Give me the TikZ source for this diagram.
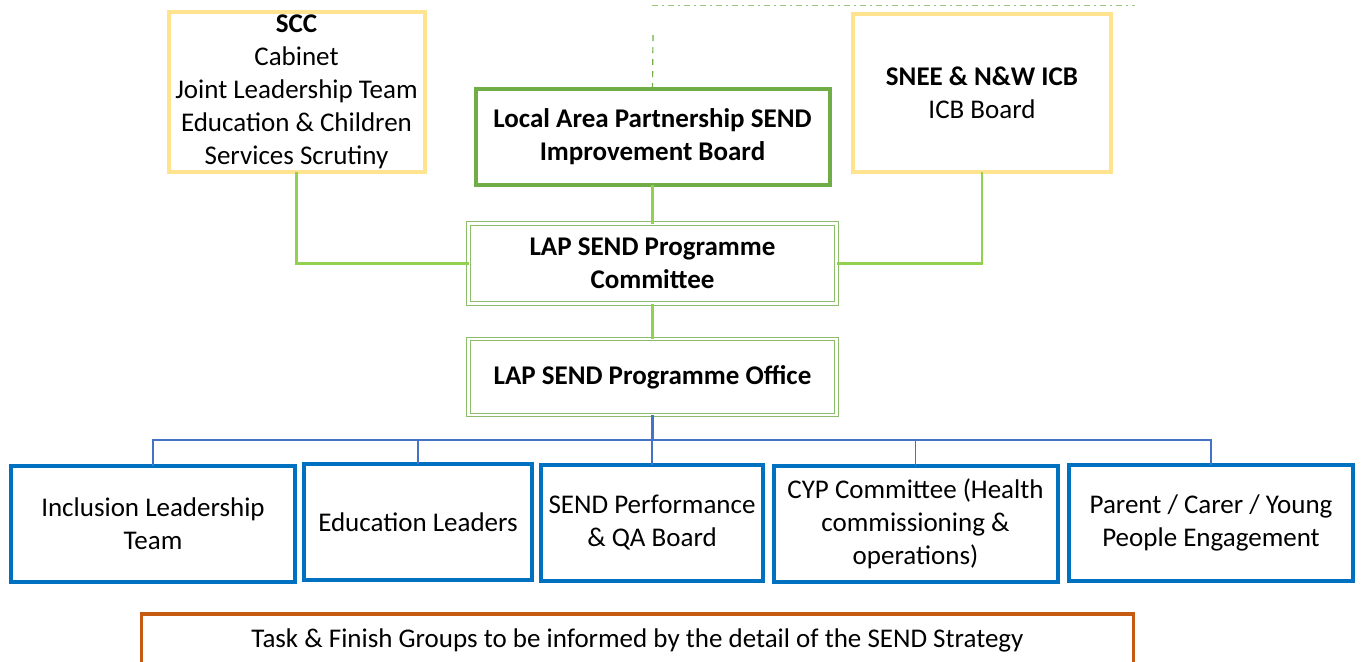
\documentclass[tikz,border=0pt]{standalone}
\usepackage{fontspec}
\setmainfont{Carlito}
\usepackage{xcolor}
\usepackage{tikz}

\definecolor{govyellow}{HTML}{FFE38F}
\definecolor{boardgreen}{HTML}{70AD47}
\definecolor{linkgreen}{HTML}{92D050}
\definecolor{teamblue}{HTML}{0070C0}
\definecolor{busblue}{HTML}{4472C4}
\definecolor{taskorange}{HTML}{C55A11}

\tikzset{
  box/.style={rectangle,inner sep=0pt,outer sep=0pt,align=center,
    font=\fontsize{13.5}{16.5}\selectfont},
  govbox/.style={box,draw=govyellow,line width=2pt},
  boardbox/.style={box,draw=boardgreen,line width=2pt,font=\fontsize{13.5}{16.5}\selectfont\bfseries},
  progbox/.style={box,draw=boardgreen!80,double=white,line width=0.6pt,double distance=1.2pt,
    font=\fontsize{13.5}{16.5}\selectfont\bfseries},
  teambox/.style={box,draw=teamblue,line width=2pt,minimum height=58pt},
  greenlink/.style={draw=linkgreen,line width=1.2pt},
  bluelink/.style={draw=busblue,line width=0.8pt},
}

\begin{document}
\begin{tikzpicture}[x=0.5pt,y=-0.5pt]
\useasboundingbox (0,0) rectangle (1362,661);
\clip (0,0) rectangle (1362,661);

% Governance
\node[govbox,minimum width=128pt,minimum height=80pt] (scc) at (296.5,92)
  {\textbf{SCC}\\Cabinet\\Joint Leadership Team\\Education \& Children\\Services Scrutiny};
\node[govbox,minimum width=129pt,minimum height=79pt] (icb) at (982,93)
  {\textbf{SNEE \& N\&W ICB}\\ICB Board};
\node[boardbox,minimum width=177pt,minimum height=48pt] (board) at (652.5,137)
  {Local Area Partnership SEND\\Improvement Board};
\coordinate (up) at (653,35);
\coordinate (dl) at (652,5);
\coordinate (dr) at (1135,5);
\draw[boardgreen!70,line width=0.5pt,dash pattern=on 3pt off 2pt on 1pt off 2pt] (dl) -- (dr);
\draw[boardgreen,line width=0.6pt,dashed] (board.north) -- (up);

% Programme
\node[progbox,minimum width=184pt,minimum height=40pt] (committee) at (652.5,263.5)
  {LAP SEND Programme\\Committee};
\node[progbox,minimum width=184pt,minimum height=38pt] (office) at (652.5,377)
  {LAP SEND Programme Office};
\draw[greenlink] (scc.south) |- (committee.west);
\draw[greenlink] (icb.south) |- (committee.east);
\draw[greenlink] (board) -- (committee);
\draw[greenlink] (committee) -- (office);

% Workstreams
\node[teambox,minimum width=142pt] (incl) at (153,523.5) {Inclusion Leadership\\Team};
\node[teambox,minimum width=114pt] (edu) at (418,522) {Education Leaders};
\node[teambox,minimum width=111pt] (perf) at (652,522.5) {SEND Performance\\\& QA Board};
\node[teambox,minimum width=142pt] (cyp) at (915.5,524) {CYP Committee (Health\\commissioning \&\\operations)};
\node[teambox,minimum width=142pt] (parent) at (1211,522.5) {Parent / Carer / Young\\People Engagement};
\foreach \t in {incl,edu,perf,cyp,parent}
  \draw[bluelink] (office.south) -- ++(0,25) -| (\t.north);
\draw[busblue,line width=1.1pt] (office.south) -- ++(0,25);

\node[box,draw=taskorange,line width=1.8pt,minimum width=496pt,minimum height=26pt] (tasks) at (637.5,640)
  {Task \& Finish Groups to be informed by the detail of the SEND Strategy};
\end{tikzpicture}
\end{document}
